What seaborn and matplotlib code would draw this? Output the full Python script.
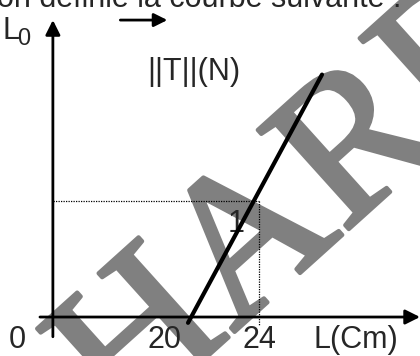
import matplotlib
matplotlib.use("Agg")
import matplotlib.pyplot as plt
import matplotlib.patheffects as pe
import seaborn as sns

# =============================
# VALUES
# =============================
L_line = [20.98, 26.68]      # L (cm) at both ends of the drawn line
T_line = [-0.05, 2.09]       # ||T|| (N) at both ends
tick_L = [20, 24]
point_L = 24                 # dotted guide point
point_T = 1
L_origin = 15.23             # the vertical axis sits here (axis is broken, "0" label)

sns.set_theme(style="white")
plt.rcParams["font.family"] = ["Liberation Sans", "DejaVu Sans"]

fig = plt.figure(figsize=(4.2, 3.56), dpi=100)
ax = fig.add_axes([0, 0, 1, 1])
ax.set_xlim(12.98, 30.85)
ax.set_ylim(-0.336, 2.733)
ax.set_axis_off()

FS = 22

# watermark behind everything
ax.text(26.0, 1.0, "HARD", rotation=42, color="#808080", fontsize=148,
        family="Liberation Serif",
        ha="center", va="center", rotation_mode="anchor", zorder=0,
        path_effects=[pe.withStroke(linewidth=3, foreground="#808080")])

# sentence cut off at the top of the scan
ax.text(12.85, 2.67, "on définie la courbe suivante :", fontsize=FS,
        ha="left", va="baseline", zorder=3)

# =============================
# AXES WITH ARROWS
# =============================
arrow = dict(arrowstyle="-|>", lw=2, color="black", mutation_scale=22,
             shrinkA=0, shrinkB=0)
ax.annotate("", xy=(30.85, 0), xytext=(14.68, 0), arrowprops=arrow, zorder=4)
ax.annotate("", xy=(L_origin, 2.56), xytext=(L_origin, -0.17),
            arrowprops=arrow, zorder=4)
# vector arrow above T
ax.annotate("", xy=(20.1, 2.56), xytext=(18.1, 2.56),
            arrowprops=dict(arrowstyle="-|>", lw=2, color="black",
                            mutation_scale=20, shrinkA=0, shrinkB=0), zorder=4)

# dotted guides to (24, 1)
ax.plot([L_origin, point_L], [point_T, point_T], color="black", lw=0.9,
        ls=(0, (1, 1)), zorder=3)
ax.plot([point_L, point_L], [point_T, -0.07], color="black", lw=0.9,
        ls=(0, (1, 1)), zorder=3)

# =============================
# THE LINE
# =============================
sns.lineplot(x=L_line, y=T_line, color="black", lw=3, ax=ax, zorder=5,
             legend=False)

# =============================
# LABELS
# =============================
ax.text(13.1, 2.47, "L", fontsize=FS, ha="left", va="center")
ax.text(13.7, 2.40, "0", fontsize=17, ha="left", va="center")
ax.text(21.21, 2.11, "||T||(N)", fontsize=FS, ha="center", va="center")
ax.text(23.02, 0.80, str(point_T), fontsize=FS, ha="center", va="center")
ax.text(13.72, -0.2, "0", fontsize=FS, ha="center", va="center")
for v in tick_L:
    ax.text(v, -0.2, str(v), fontsize=FS, ha="center", va="center")
ax.text(28.13, -0.2, "L(Cm)", fontsize=FS, ha="center", va="center")

fig.savefig("out.png", dpi=100)
